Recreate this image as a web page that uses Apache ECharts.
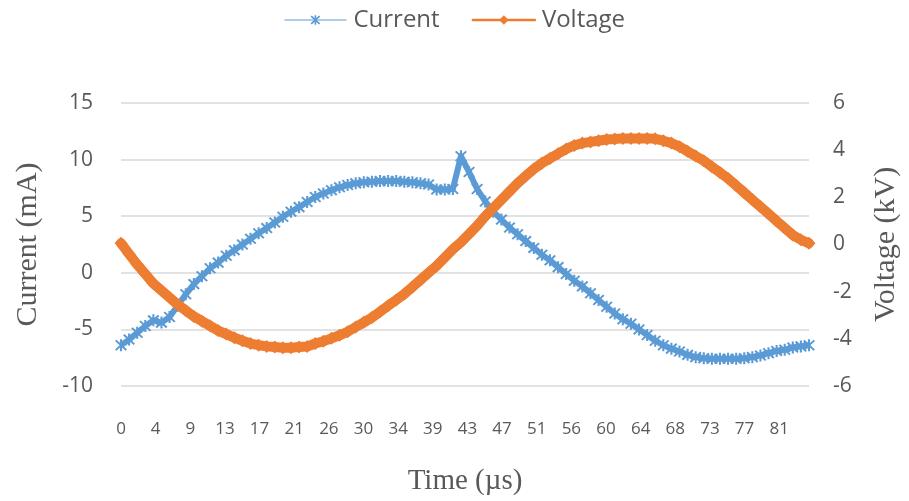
<!DOCTYPE html>
<html>
<head>
<meta charset="utf-8">
<script src="https://cdn.jsdelivr.net/npm/echarts@6/dist/echarts.min.js"></script>
<style>
html,body{margin:0;padding:0;background:#fff;}
#chart{width:909px;height:501px;}
</style>
</head>
<body>
<div id="chart"></div>
<script>
// Time in µs (one sample per µs)
const time = [0,1,2,3,4,5,6,7,8,9,10,11,12,13,14,15,16,17,18,19,20,21,22,23,24,25,26,27,28,29,30,31,32,33,34,35,36,37,38,39,40,41,42,43,44,45,46,47,48,49,50,51,52,53,54,55,56,57,58,59,60,61,62,63,64,65,66,67,68,69,70,71,72,73,74,75,76,77,78,79,80,81,82,83,84,85];
// Current in mA
const current = [-6.4,-5.9,-5.3,-4.7,-4.2,-4.4,-3.9,-2.9,-1.9,-1.0,-0.3,0.4,0.9,1.5,2.0,2.5,3.0,3.5,3.95,4.45,4.95,5.4,5.8,6.25,6.7,7.0,7.3,7.55,7.75,7.9,8.0,8.05,8.1,8.1,8.1,8.05,8.0,7.9,7.8,7.35,7.35,7.4,10.3,8.9,7.4,6.3,5.4,4.7,4.0,3.4,2.8,2.2,1.6,1.1,0.5,-0.1,-0.7,-1.2,-1.8,-2.4,-3.0,-3.6,-4.1,-4.5,-5.0,-5.5,-6.0,-6.4,-6.7,-6.95,-7.25,-7.45,-7.55,-7.6,-7.6,-7.6,-7.6,-7.55,-7.45,-7.3,-7.1,-6.9,-6.8,-6.6,-6.5,-6.4];
// Voltage in kV
const voltage = [0.05,-0.4,-0.85,-1.25,-1.65,-1.95,-2.25,-2.55,-2.8,-3.05,-3.25,-3.45,-3.65,-3.8,-3.95,-4.08,-4.2,-4.27,-4.32,-4.35,-4.38,-4.38,-4.35,-4.33,-4.2,-4.1,-3.98,-3.85,-3.7,-3.5,-3.3,-3.1,-2.85,-2.6,-2.35,-2.1,-1.8,-1.5,-1.2,-0.9,-0.55,-0.2,0.1,0.45,0.8,1.2,1.55,1.9,2.25,2.6,2.9,3.2,3.45,3.65,3.85,4.05,4.2,4.3,4.35,4.4,4.45,4.47,4.5,4.5,4.5,4.5,4.48,4.4,4.3,4.15,3.95,3.75,3.55,3.3,3.05,2.8,2.5,2.2,1.9,1.6,1.3,1.0,0.7,0.4,0.2,0.05];
// Time-axis tick label step (µs) and axis ranges
const timeTickStep = 4.28;
const timeMax = 85;
const currentTicks = [-10, -5, 0, 5, 10, 15];
const voltageTicks = [-6, -4, -2, 0, 2, 4, 6];

const seriesNames = ['Current', 'Voltage'];
const colors = ['#5B9BD5', '#ED7D31'];

const asterisk = 'path://M4.2,0L5.8,0L5.8,10L4.2,10Z M0.4,1.5L1.5,0.4L9.6,8.5L8.5,9.6Z M8.5,0.4L9.6,1.5L1.5,9.6L0.4,8.5Z';

const chart = echarts.init(document.getElementById('chart'), null, {renderer: 'canvas'});
const gray = '#595959';

chart.setOption({
  animation: false,
  backgroundColor: '#ffffff',
  legend: {
    top: 3,
    left: 'center',
    itemWidth: 62,
    itemHeight: 12,
    itemGap: 32,
    textStyle: {fontFamily: 'Open Sans', fontSize: 24, color: gray, padding: [0,0,0,2]},
    data: [
      {name: seriesNames[0], lineStyle: {width: 1}},
      {name: seriesNames[1], lineStyle: {width: 2.5}}
    ]
  },
  grid: {left: 121, right: 97, top: 103, bottom: 109, containLabel: false},
  xAxis: {
    type: 'value',
    min: 0,
    max: timeMax,
    interval: timeTickStep,
    name: 'Time (µs)',
    nameLocation: 'middle',
    nameGap: 81,
    nameTextStyle: {fontFamily: 'Liberation Serif', fontSize: 29, color: gray},
    axisLine: {show: false},
    axisTick: {show: false},
    splitLine: {show: false},
    axisLabel: {
      margin: 35,
      fontFamily: 'Open Sans',
      fontSize: 17,
      color: gray,
      showMaxLabel: false,
      formatter: function (v) {
        const k = v / timeTickStep;
        return Math.abs(k - Math.round(k)) < 1e-3 ? String(Math.round(v)) : '';
      }
    }
  },
  yAxis: [
    {
      type: 'value',
      min: currentTicks[0],
      max: currentTicks[currentTicks.length - 1],
      interval: currentTicks[1] - currentTicks[0],
      name: 'Current (mA)',
      nameLocation: 'middle',
      nameRotate: 90,
      nameGap: 78,
      nameTextStyle: {fontFamily: 'Liberation Serif', fontSize: 30, color: gray},
      axisLine: {show: false},
      axisTick: {show: false},
      splitLine: {show: true, lineStyle: {color: '#D9D9D9', width: 1.5}},
      axisLabel: {margin: 28, fontFamily: 'Open Sans', fontSize: 21, color: gray}
    },
    {
      type: 'value',
      min: voltageTicks[0],
      max: voltageTicks[voltageTicks.length - 1],
      interval: voltageTicks[1] - voltageTicks[0],
      name: 'Voltage (kV)',
      nameLocation: 'middle',
      nameRotate: 90,
      nameGap: 62,
      nameTextStyle: {fontFamily: 'Liberation Serif', fontSize: 30, color: gray},
      axisLine: {show: false},
      axisTick: {show: false},
      splitLine: {show: false},
      axisLabel: {margin: 24, fontFamily: 'Open Sans', fontSize: 21, color: gray}
    }
  ],
  series: [
    {
      name: seriesNames[0],
      type: 'line',
      yAxisIndex: 0,
      data: time.map((t, i) => [t, current[i]]),
      symbol: asterisk,
      symbolSize: 12,
      showAllSymbol: true,
      clip: false,
      color: colors[0],
      lineStyle: {color: colors[0], width: 6, join: 'round'},
      itemStyle: {color: colors[0]},
      z: 2
    },
    {
      name: seriesNames[1],
      type: 'line',
      yAxisIndex: 1,
      data: time.map((t, i) => [t, voltage[i]]),
      symbol: 'diamond',
      symbolSize: 13,
      showAllSymbol: true,
      clip: false,
      color: colors[1],
      lineStyle: {color: colors[1], width: 10, cap: 'round', join: 'round'},
      itemStyle: {color: colors[1]},
      z: 3
    }
  ]
});
</script>
</body>
</html>
